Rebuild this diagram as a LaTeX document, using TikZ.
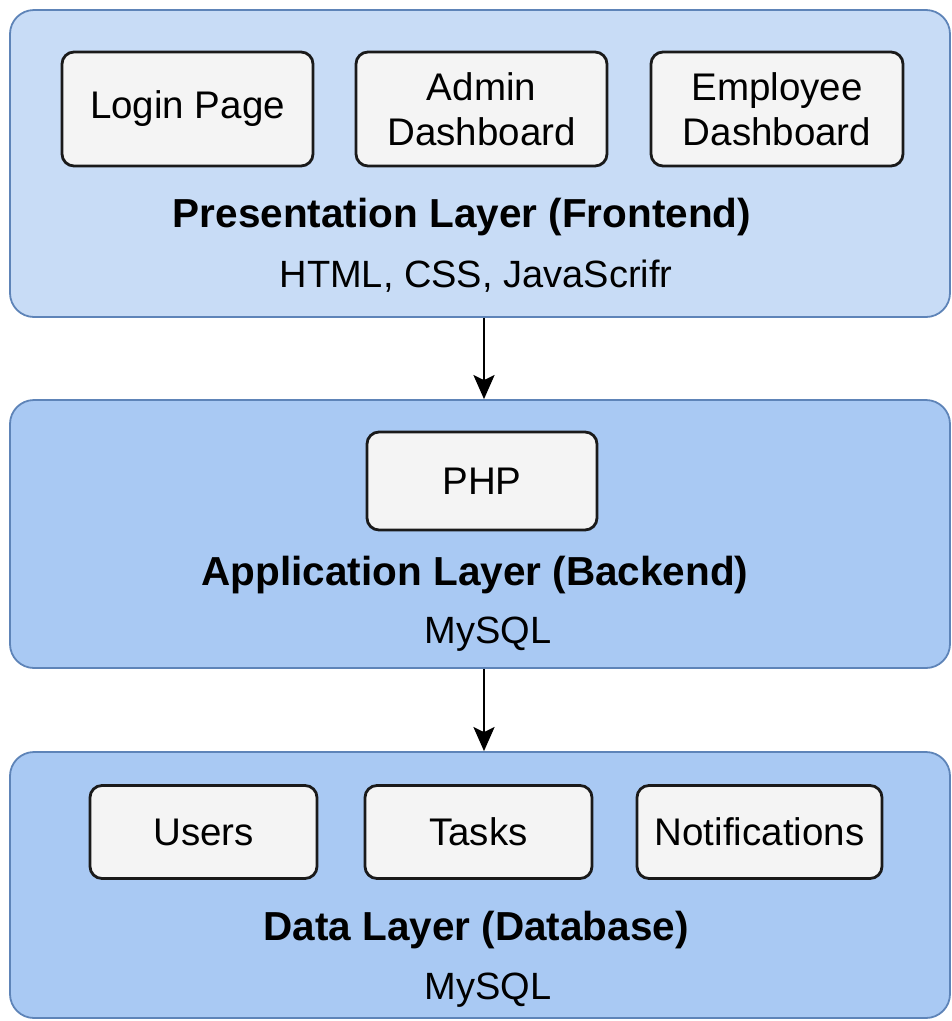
\documentclass[tikz,border=0pt]{standalone}
\usepackage{fontspec}
\setmainfont{Liberation Sans}
\usetikzlibrary{arrows.meta}
\definecolor{layerA}{HTML}{C8DCF6}
\definecolor{layerB}{HTML}{A9C9F3}
\definecolor{layerEdge}{HTML}{5E84B8}
\definecolor{boxFill}{HTML}{F4F4F4}
\definecolor{boxEdge}{HTML}{1A1A1A}
\tikzset{
  layer/.style={draw=layerEdge, line width=1.8pt, rounded corners=24pt, minimum width=940pt, inner sep=0pt},
  item/.style={draw=boxEdge, fill=boxFill, line width=2.8pt, rounded corners=12pt, inner sep=0pt, align=center,
    font=\fontsize{38.5}{45}\selectfont},
  ttl/.style={font=\bfseries\fontsize{40.5}{46}\selectfont, inner sep=0pt},
  sub/.style={font=\fontsize{38}{44}\selectfont, inner sep=0pt},
  arr/.style={line width=2.6pt, -{Stealth[length=24pt,width=21pt,inset=5pt]}}
}
\begin{document}
\begin{tikzpicture}[x=1pt,y=-1pt]
\useasboundingbox (0,0) rectangle (952,1021);
\node[layer, fill=layerA, minimum height=307pt] (L1) at (480,163.5) {};
\node[layer, fill=layerB, minimum height=268pt] (L2) at (480,534) {};
\node[layer, fill=layerB, minimum height=266pt] (L3) at (480,885) {};

\node[item, minimum width=251pt, minimum height=114pt] (login) at (187.5,109) {Login Page};
\node[item, minimum width=251pt, minimum height=114pt] (admin) at (481.5,109) {Admin\\Dashboard};
\node[item, minimum width=252pt, minimum height=114pt] (emp) at (777,109) {Employee\\Dashboard};
\node[ttl] (t1) at (462,217) {Presentation Layer (Frontend)};
\node[sub] (s1) at (476,276) {HTML, CSS, JavaScrifr};

\node[item, minimum width=230pt, minimum height=98pt] (php) at (482,481) {PHP};
\node[ttl] (t2) at (475,575) {Application Layer (Backend)};
\node[sub] (s2) at (488,634) {MySQL};

\node[item, minimum width=227pt, minimum height=93pt] (users) at (203.5,832) {Users};
\node[item, minimum width=227pt, minimum height=93pt] (tasks) at (478.5,832) {Tasks};
\node[item, minimum width=245pt, minimum height=93pt] (notif) at (759.5,832) {Notifications};
\node[ttl] (t3) at (476,930) {Data Layer (Database)};
\node[sub] (s3) at (488,990) {MySQL};

\coordinate (ax) at (484,0);
\draw[arr] (L1.south -| ax) -- (L2.north -| ax);
\draw[arr] (L2.south -| ax) -- (L3.north -| ax);
\end{tikzpicture}
\end{document}
